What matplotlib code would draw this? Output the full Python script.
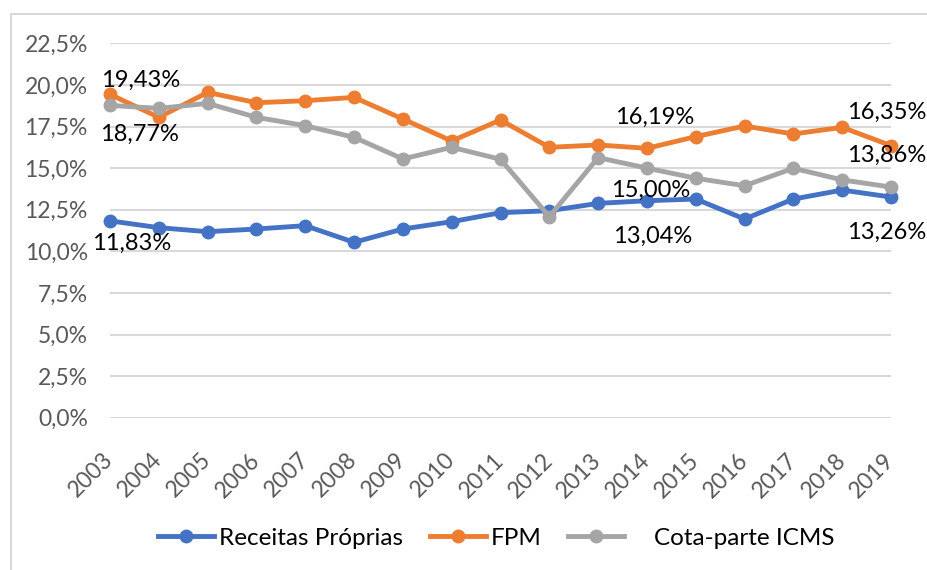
import matplotlib.pyplot as plt
from matplotlib.patches import Rectangle
from matplotlib.ticker import FuncFormatter

plt.rcParams['font.family'] = ['Lato', 'DejaVu Sans']

years = list(range(2003, 2020))
receitas_proprias = [11.83, 11.42, 11.18, 11.34, 11.54, 10.54, 11.34, 11.78, 12.32,
                     12.44, 12.88, 13.04, 13.14, 11.94, 13.14, 13.68, 13.26]
fpm = [19.43, 18.05, 19.55, 18.93, 19.05, 19.25, 17.95, 16.63, 17.89,
       16.25, 16.39, 16.19, 16.89, 17.53, 17.05, 17.45, 16.35]
cota_icms = [18.77, 18.59, 18.89, 18.05, 17.55, 16.85, 15.55, 16.25, 15.53,
             12.08, 15.63, 15.00, 14.39, 13.94, 14.99, 14.29, 13.86]
y_ticks = [0, 2.5, 5, 7.5, 10, 12.5, 15, 17.5, 20, 22.5]

# (series, year index, offset in pixels)
labels = [
    (fpm, 0, (31, 14)),
    (cota_icms, 0, (29, -29)),
    (receitas_proprias, 0, (22, -22)),
    (fpm, 11, (8, 31)),
    (cota_icms, 11, (4, -22)),
    (receitas_proprias, 11, (6, -36)),
    (fpm, 16, (-4, 33)),
    (cota_icms, 16, (-4, 32)),
    (receitas_proprias, 16, (-4, -35)),
]

fig = plt.figure(figsize=(9.28, 5.70), dpi=100)
ax = fig.add_axes([110 / 928, 152.3 / 570, 781 / 928, 374.4 / 570])

fig.patches.append(Rectangle((11 / 928, -0.1), 1.2, 1.1 - 14 / 570,
                             transform=fig.transFigure, fill=False,
                             edgecolor='#D9D9D9', linewidth=1.5))

style = dict(linewidth=3.5, marker='o', markersize=9, clip_on=False)
ax.plot(years, receitas_proprias, color='#4472C4', label='Receitas Próprias', **style)
ax.plot(years, fpm, color='#ED7D31', label='FPM', **style)
ax.plot(years, cota_icms, color='#A5A5A5', label='    Cota-parte ICMS', **style)

for series, i, off in labels:
    ax.annotate(f'{series[i]:.2f}%'.replace('.', ','), (years[i], series[i]),
                xytext=off, textcoords='offset pixels', ha='center', va='center',
                fontsize=17, color='black', annotation_clip=False)

ax.set_xlim(2003, 2019)
ax.set_ylim(0, 22.5)
ax.set_xticks(years)
ax.set_yticks(y_ticks)
ax.yaxis.set_major_formatter(FuncFormatter(lambda v, p: f'{v:.1f}%'.replace('.', ',')))
for lab in ax.get_xticklabels():
    lab.set_rotation(45)
    lab.set_ha('right')
    lab.set_va('center')
    lab.set_rotation_mode('anchor')
ax.tick_params(axis='both', length=0, labelsize=16.5, labelcolor='#595959')
ax.tick_params(axis='y', pad=16)
ax.tick_params(axis='x', pad=28)
ax.grid(axis='y', color='#D9D9D9', linewidth=1.5)
ax.set_axisbelow(True)
for s in ax.spines.values():
    s.set_visible(False)

fig.legend(loc='center', bbox_to_anchor=(0.535, 1 - 538 / 570), ncol=3,
           frameon=False, fontsize=17.5, handlelength=2.3, handletextpad=0.2,
           columnspacing=1.1)

fig.savefig('out.png', dpi=100)
